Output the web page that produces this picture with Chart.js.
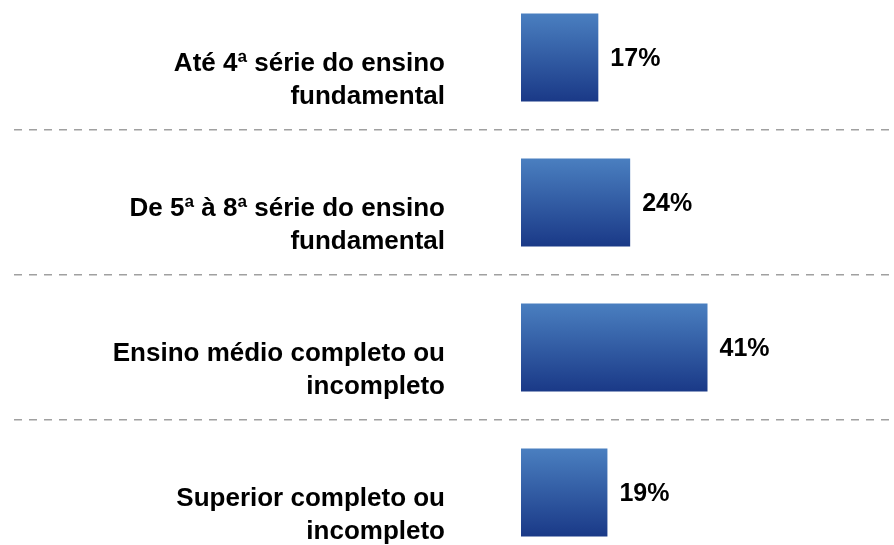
<!DOCTYPE html>
<html>
<head>
<meta charset="utf-8">
<script src="https://cdn.jsdelivr.net/npm/chart.js@4"></script>
<style>
  html, body { margin: 0; padding: 0; background: #fff; overflow: hidden; }
  #wrap { position: relative; width: 894px; height: 545px; overflow: hidden; }
  #grafico { position: absolute; left: 0; top: -15px; }
</style>
</head>
<body>
<div id="wrap">
  <canvas id="grafico" width="894" height="580"></canvas>
</div>
<script>
const categorias = [
  ['Até 4ª série do ensino', 'fundamental'],
  ['De 5ª à 8ª série do ensino', 'fundamental'],
  ['Ensino médio completo ou', 'incompleto'],
  ['Superior completo ou', 'incompleto']
];
const valores = [17, 24, 41, 19];
const rotulos = valores.map(v => v + '%');

const corTopo = '#4a7fc0';
const corBase = '#1a3987';

Chart.defaults.font.family = '"Liberation Sans", Arial, Helvetica, sans-serif';
Chart.defaults.color = '#000';

// gradiente vertical em cada barra
function gradienteBarra(ctx) {
  const chart = ctx.chart;
  if (!chart.chartArea || ctx.type !== 'data') return corTopo;
  const escala = chart.scales.y;
  const meio = escala.getPixelForValue(ctx.dataIndex);
  const metade = escala.height / categorias.length * 0.607 / 2;
  const g = chart.ctx.createLinearGradient(0, meio - metade, 0, meio + metade);
  g.addColorStop(0, corTopo);
  g.addColorStop(1, corBase);
  return g;
}

const rotulosValores = {
  id: 'rotulosValores',
  afterDatasetsDraw(chart) {
    const ctx = chart.ctx;
    const meta = chart.getDatasetMeta(0);
    ctx.save();
    ctx.font = 'bold 25px "Liberation Sans", Arial, Helvetica, sans-serif';
    ctx.fillStyle = '#000';
    ctx.textAlign = 'left';
    ctx.textBaseline = 'middle';
    meta.data.forEach((barra, i) => {
      ctx.fillText(rotulos[i], barra.x + 12, barra.y + 2);
    });
    ctx.restore();
  }
};

new Chart(document.getElementById('grafico'), {
  type: 'bar',
  data: {
    labels: categorias,
    datasets: [{
      data: valores,
      backgroundColor: gradienteBarra,
      borderWidth: 0,
      categoryPercentage: 1,
      barPercentage: 0.607
    }]
  },
  options: {
    indexAxis: 'y',
    responsive: false,
    animation: false,
    devicePixelRatio: 1,
    layout: { padding: 0 },
    plugins: { legend: { display: false }, tooltip: { enabled: false } },
    scales: {
      x: { display: false, min: 0, max: 82 },
      y: {
        afterFit(scale) { scale.width = 521; },
        border: { display: false, dash: [8, 7] },
        grid: {
          offset: true,
          color: '#a0a0a0',
          lineWidth: 1.5,
          tickLength: 507,
          tickBorderDash: [8, 7]
        },
        ticks: {
          padding: -431,
          labelOffset: 23,
          color: '#000',
          font: { size: 26, weight: 'bold', lineHeight: 1.27 }
        }
      }
    }
  },
  plugins: [rotulosValores]
});
</script>
</body>
</html>
